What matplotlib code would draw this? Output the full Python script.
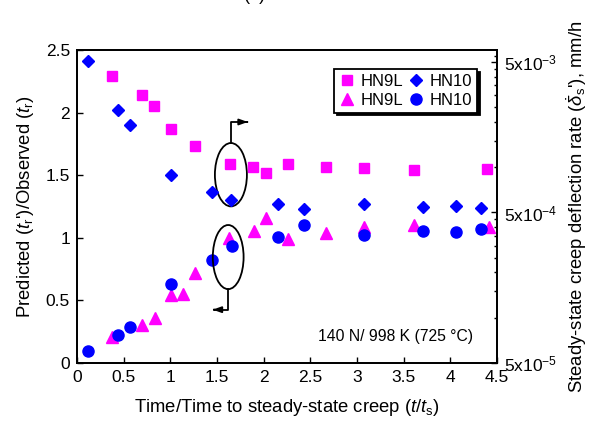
import matplotlib
matplotlib.use("Agg")
import matplotlib.pyplot as plt
from matplotlib.patches import Ellipse
from matplotlib.ticker import FixedLocator, FixedFormatter, NullFormatter

plt.rcParams['font.family'] = ['Liberation Sans', 'DejaVu Sans']
plt.rcParams['mathtext.fontset'] = 'custom'
plt.rcParams['mathtext.rm'] = 'Liberation Sans'
plt.rcParams['mathtext.it'] = 'Liberation Sans:italic'
plt.rcParams['mathtext.bf'] = 'Liberation Sans:bold'

# ---- data ----
# right axis: steady-state creep deflection rate (mm/h)
sq_x = [0.37, 0.70, 0.83, 1.01, 1.26, 1.64, 1.89, 2.02, 2.26, 2.67, 3.07, 3.61, 4.39]
sq_y = [4.06e-3, 3.02e-3, 2.56e-3, 1.79e-3, 1.39e-3, 1.05e-3, 9.98e-4, 9.2e-4,
        1.05e-3, 1.007e-3, 9.8e-4, 9.6e-4, 9.7e-4]
di_x = [0.12, 0.44, 0.57, 1.01, 1.45, 1.65, 2.15, 2.43, 3.08, 3.71, 4.06, 4.33]
di_y = [5.08e-3, 2.39e-3, 1.90e-3, 8.87e-4, 6.84e-4, 6.08e-4, 5.72e-4, 5.27e-4,
        5.69e-4, 5.47e-4, 5.55e-4, 5.38e-4]
# left axis: predicted / observed rupture time
tri_x = [0.37, 0.70, 0.84, 1.01, 1.14, 1.26, 1.63, 1.90, 2.02, 2.26, 2.67, 3.07, 3.61, 4.41]
tri_y = [0.21, 0.30, 0.36, 0.54, 0.55, 0.72, 1.00, 1.055, 1.16, 0.99, 1.04, 1.09, 1.10, 1.09]
ci_x = [0.12, 0.44, 0.57, 1.01, 1.45, 1.66, 2.15, 2.43, 3.08, 3.71, 4.06, 4.33]
ci_y = [0.096, 0.222, 0.284, 0.627, 0.822, 0.937, 1.004, 1.10, 1.02, 1.055, 1.047, 1.068]

x_ticks = [0, 0.5, 1, 1.5, 2, 2.5, 3, 3.5, 4, 4.5]
x_labels = ['0', '0.5', '1', '1.5', '2', '2.5', '3', '3.5', '4', '4.5']
yl_ticks = [0, 0.5, 1, 1.5, 2, 2.5]
yl_labels = ['0', '0.5', '1', '1.5', '2', '2.5']
yr_ticks = [5e-5, 5e-4, 5e-3]
yr_labels = [r'5x10$^{-5}$', r'5x10$^{-4}$', r'5x10$^{-3}$']
yr_minor = [5e-5 * k for k in range(2, 10)] + [5e-4 * k for k in range(2, 10)] + [5.5e-3]

MAG = '#FF00FF'
BLU = '#0000FF'

fig = plt.figure(figsize=(5.91, 4.25), dpi=100)
ax = fig.add_axes([77 / 591, 62 / 425, 420 / 591, 313 / 425])
ax2 = ax.twinx()

# left-axis series
ax.plot(tri_x, tri_y, linestyle='none', marker='^', ms=8.4, color=MAG, mec=MAG, zorder=3)
ax.plot(ci_x, ci_y, linestyle='none', marker='o', ms=8, color=BLU, mec=BLU, zorder=4)

# right-axis series
ax2.plot(sq_x, sq_y, linestyle='none', marker='s', ms=7.4, color=MAG, mec=MAG, zorder=3)
ax2.plot(di_x, di_y, linestyle='none', marker='D', ms=6.2, color=BLU, mec=BLU, zorder=4)

ax.set_xlim(0, 4.5)
ax.set_ylim(0, 2.5)
ax2.set_yscale('log')
ax2.set_ylim(5e-5, 6e-3)

ax.set_xticks(x_ticks)
ax.set_xticklabels(x_labels)
ax.set_yticks(yl_ticks)
ax.set_yticklabels(yl_labels)
ax.tick_params(axis='both', direction='in', length=4, width=1, labelsize=12.5, pad=5,
               top=False, right=False)

ax2.yaxis.set_major_locator(FixedLocator(yr_ticks))
ax2.yaxis.set_major_formatter(FixedFormatter(yr_labels))
ax2.yaxis.set_minor_locator(FixedLocator(yr_minor))
ax2.yaxis.set_minor_formatter(NullFormatter())
ax2.tick_params(axis='y', which='major', direction='in', length=4, width=1, labelsize=12.5, pad=5)
ax2.tick_params(axis='y', which='minor', direction='in', length=2.5, width=1)

for a in (ax, ax2):
    for s in a.spines.values():
        s.set_linewidth(1.3)

ax.set_xlabel(r'Time/Time to steady-state creep ($t$/$t_\mathrm{s}$)', fontsize=13.3, labelpad=9)
ax.set_ylabel(r"Predicted ($t_\mathrm{r}$')/Observed ($t_\mathrm{r}$)", fontsize=13.3, labelpad=7)
ax2.set_ylabel(r"Steady-state creep deflection rate ($\dot{\delta}_\mathrm{s}$'), mm/h",
               fontsize=13.3, labelpad=5)

# ellipses and arrows
e1 = Ellipse((1.649, 1.504), 0.343, 0.506, fill=False, ec='black', lw=1.3, zorder=5)
e2 = Ellipse((1.62, 0.846), 0.33, 0.512, fill=False, ec='black', lw=1.3, zorder=5)
ax.add_patch(e1)
ax.add_patch(e2)
ax.plot([1.649, 1.649, 1.80], [1.757, 1.925, 1.925], color='black', lw=1.3, zorder=5)
ax.annotate('', xy=(1.86, 1.925), xytext=(1.79, 1.925),
            arrowprops=dict(arrowstyle='-|>,head_length=0.5,head_width=0.18', color='black', lw=1.3))
ax.plot([1.62, 1.62, 1.49], [0.59, 0.426, 0.426], color='black', lw=1.3, zorder=5)
ax.annotate('', xy=(1.424, 0.426), xytext=(1.50, 0.426),
            arrowprops=dict(arrowstyle='-|>,head_length=0.5,head_width=0.18', color='black', lw=1.3))

ax.text(0.575, 0.085, '140 N/ 998 K (725 °C)', transform=ax.transAxes, fontsize=11.3,
        ha='left', va='center')

# legend
h_sq = plt.Line2D([], [], linestyle='none', marker='s', ms=7.4, color=MAG)
h_tr = plt.Line2D([], [], linestyle='none', marker='^', ms=8.4, color=MAG)
h_di = plt.Line2D([], [], linestyle='none', marker='D', ms=6.2, color=BLU)
h_ci = plt.Line2D([], [], linestyle='none', marker='o', ms=8, color=BLU)
leg = ax2.legend([h_sq, h_tr, h_di, h_ci], ['HN9L', 'HN9L', 'HN10', 'HN10'], ncol=2,
                 loc='upper right', bbox_to_anchor=(0.973, 0.965), fontsize=12,
                 handlelength=1.0, handletextpad=0.3, columnspacing=0.3,
                 labelspacing=0.2, borderpad=0.3, fancybox=False,
                 shadow={'color': 'black', 'alpha': 1.0}, framealpha=1, edgecolor='black')
leg.get_frame().set_linewidth(1.3)

fig.text(0.431, 1.0, '(a)', ha='center', va='baseline', fontsize=13)

fig.savefig('out.png', dpi=100)
